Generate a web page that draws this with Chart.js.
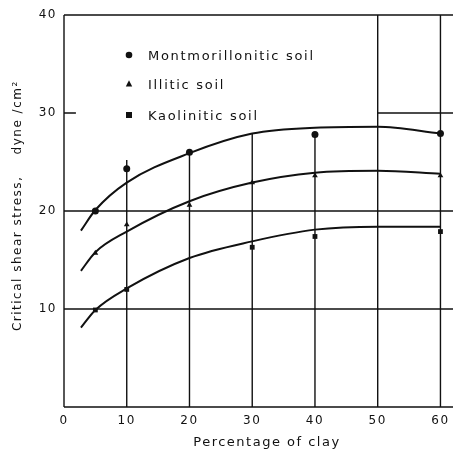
<!DOCTYPE html>
<html>
<head>
<meta charset="utf-8">
<script src="https://cdn.jsdelivr.net/npm/chart.js@4/dist/chart.umd.min.js"></script>
<style>
  html, body { margin: 0; padding: 0; background: #fff; }
  #wrap { width: 457px; height: 457px; position: relative; }
</style>
</head>
<body>
<div id="wrap"><canvas id="chart"></canvas></div>
<script>
// measured points (percentage of clay vs critical shear stress)
const montX = [5, 10, 20, 40, 60];
const montY = [20.0, 24.3, 26.0, 27.8, 27.9];
const illX = [5, 10, 20, 30, 40, 60];
const illY = [15.7, 18.6, 20.6, 22.9, 23.6, 23.6];
const kaoX = [5, 10, 30, 40, 60];
const kaoY = [9.9, 12.0, 16.3, 17.4, 17.9];

// hand-drawn fitted curves
const curveX = [2.7, 5, 10, 20, 30, 40, 50, 60];
const montCurve = [18.0, 20.1, 22.9, 25.9, 27.9, 28.5, 28.6, 27.9];
const illCurve = [13.9, 15.8, 17.9, 21.0, 22.9, 23.9, 24.1, 23.8];
const kaoCurve = [8.1, 9.9, 12.1, 15.2, 16.9, 18.1, 18.4, 18.4];

const seriesNames = ['Montmorillonitic soil', 'Illitic soil', 'Kaolinitic soil'];

const xTicks = [0, 10, 20, 30, 40, 50, 60];
const yTicks = [10, 20, 30, 40];

// grid as drawn in the figure: verticals stop at the top reading
const gridX = [10, 20, 30, 40, 50, 60];
const gridTop = [25.2, 26.0, 27.9, 27.8, 40, 40];
const gridY = [10, 20];

const ink = '#111';
const toXY = (xs, ys) => xs.map((x, i) => ({x: x, y: ys[i]}));

const gridPlugin = {
  id: 'figureGrid',
  beforeDraw(chart) {
    chart.ctx.letterSpacing = '1.5px';
  },
  beforeDatasetsDraw(chart) {
    const {ctx, chartArea: a, scales: {x, y}} = chart;
    ctx.save();
    ctx.strokeStyle = ink;
    ctx.lineWidth = 1.4;
    ctx.beginPath();
    // frame: left, bottom, top
    ctx.moveTo(a.left, a.top); ctx.lineTo(a.left, a.bottom);
    ctx.moveTo(a.left, a.bottom); ctx.lineTo(a.right, a.bottom);
    ctx.moveTo(a.left, a.top); ctx.lineTo(a.right, a.top);
    gridY.forEach(v => {
      ctx.moveTo(a.left, y.getPixelForValue(v));
      ctx.lineTo(a.right, y.getPixelForValue(v));
    });
    // 30 line: short tick at the axis, then from 50 to the edge
    ctx.moveTo(a.left, y.getPixelForValue(30));
    ctx.lineTo(x.getPixelForValue(1.9), y.getPixelForValue(30));
    ctx.moveTo(x.getPixelForValue(50), y.getPixelForValue(30));
    ctx.lineTo(a.right, y.getPixelForValue(30));
    gridX.forEach((v, i) => {
      ctx.moveTo(x.getPixelForValue(v), a.bottom);
      ctx.lineTo(x.getPixelForValue(v), y.getPixelForValue(gridTop[i]));
    });
    ctx.stroke();
    ctx.restore();
  },
  afterDatasetsDraw(chart) {
    const {ctx, chartArea: a} = chart;
    const styles = ['circle', 'triangle', 'rect'];
    const rows = [40, 69, 100];
    ctx.save();
    ctx.fillStyle = ink;
    ctx.font = '13px "DejaVu Sans"';
    ctx.letterSpacing = '1.7px';
    ctx.textBaseline = 'middle';
    seriesNames.forEach((name, i) => {
      const mx = a.left + 65, my = a.top + rows[i];
      ctx.beginPath();
      if (styles[i] === 'circle') {
        ctx.arc(mx, my, 3.3, 0, Math.PI * 2);
      } else if (styles[i] === 'triangle') {
        ctx.moveTo(mx, my - 3.8);
        ctx.lineTo(mx + 3.2, my + 2.4);
        ctx.lineTo(mx - 3.2, my + 2.4);
        ctx.closePath();
      } else {
        ctx.rect(mx - 3, my - 3, 6, 6);
      }
      ctx.fill();
      ctx.fillText(name, a.left + 84, my + 1.5);
    });
    ctx.restore();
  }
};

function pointSet(label, xs, ys, style, r) {
  return {
    label: label,
    data: toXY(xs, ys),
    showLine: false,
    pointStyle: style,
    pointRadius: r,
    backgroundColor: ink,
    borderColor: ink,
    borderWidth: 0
  };
}

function curveSet(label, ys) {
  return {
    label: label,
    data: toXY(curveX, ys),
    showLine: true,
    pointRadius: 0,
    borderColor: ink,
    borderWidth: 2,
    cubicInterpolationMode: 'monotone',
    fill: false
  };
}

new Chart(document.getElementById('chart'), {
  type: 'scatter',
  data: {
    datasets: [
      curveSet('Montmorillonitic fit', montCurve),
      curveSet('Illitic fit', illCurve),
      curveSet('Kaolinitic fit', kaoCurve),
      pointSet(seriesNames[0], montX, montY, 'circle', 3.5),
      pointSet(seriesNames[1], illX, illY, 'triangle', 3.3),
      pointSet(seriesNames[2], kaoX, kaoY, 'rect', 3.4)
    ]
  },
  options: {
    responsive: true,
    maintainAspectRatio: false,
    animation: false,
    layout: {padding: {top: 15, left: 0, right: 0, bottom: 0}},
    plugins: {
      legend: {display: false},
      tooltip: {enabled: false}
    },
    scales: {
      x: {
        type: 'linear',
        min: 0,
        max: 62,
        grid: {display: false, drawTicks: false},
        border: {display: false},
        afterBuildTicks: s => { s.ticks = xTicks.map(v => ({value: v})); },
        afterFit: s => { s.height = 50; },
        ticks: {
          color: ink,
          padding: 7,
          maxRotation: 0,
          font: {family: 'DejaVu Sans', size: 12}
        },
        title: {
          display: true,
          text: '   Percentage of clay',
          color: ink,
          padding: {top: 0, bottom: 7},
          font: {family: 'DejaVu Sans', size: 13}
        }
      },
      y: {
        type: 'linear',
        min: 0,
        max: 40,
        grid: {display: false, drawTicks: false},
        border: {display: false},
        afterBuildTicks: s => { s.ticks = yTicks.map(v => ({value: v})); },
        afterFit: s => { s.width = 64; },
        ticks: {
          color: ink,
          padding: 7,
          font: {family: 'DejaVu Sans', size: 12}
        },
        title: {
          display: true,
          text: '  Critical shear stress,    dyne /cm\u00B2',
          color: ink,
          padding: {top: 11, bottom: 0},
          font: {family: 'DejaVu Sans', size: 12}
        }
      }
    }
  },
  plugins: [gridPlugin]
});
</script>
</body>
</html>
